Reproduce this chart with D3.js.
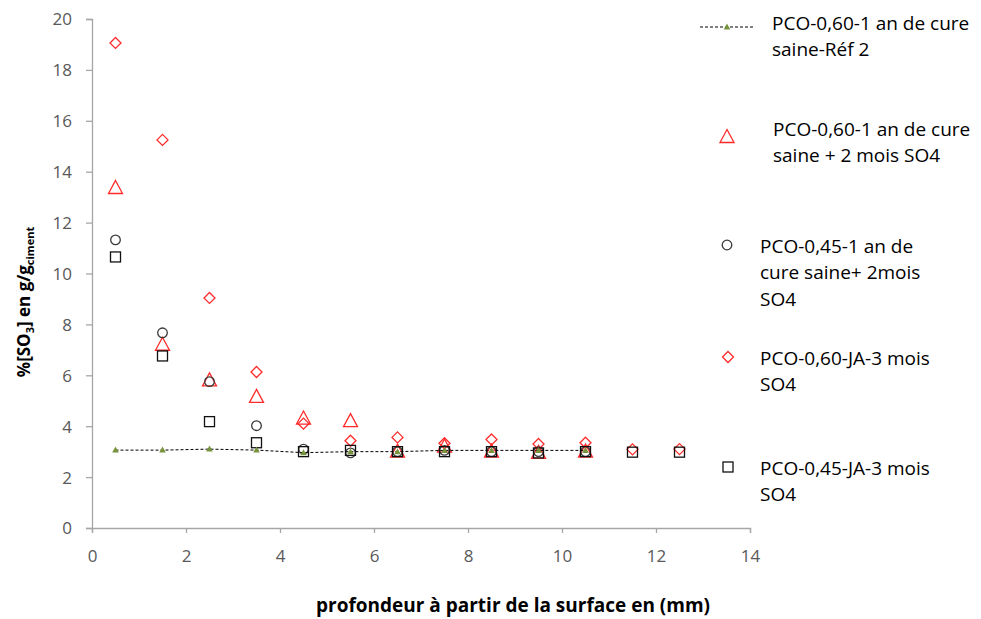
<!DOCTYPE html>
<html><head><meta charset="utf-8">
<script src="https://cdn.jsdelivr.net/npm/d3@7"></script>
<style>
body{margin:0;background:#fff;}
svg{font-family:"Open Sans",sans-serif;}
</style></head>
<body>
<svg id="c" width="981" height="619"></svg>
<script>
const depths = [0.5,1.5,2.5,3.5,4.5,5.5,6.5,7.5,8.5,9.5,10.5,11.5,12.5];
const refVals = [3.06,3.06,3.1,3.06,2.96,3.0,3.0,3.05,3.05,3.05,3.05];
const tri60Vals = [13.36,7.2,5.8,5.15,4.3,4.2,3.0,3.2,3.0,2.95,3.0];
const circ45Vals = [11.32,7.67,5.75,4.02,3.1,2.95,3.0,3.05,3.0,3.0,3.0];
const diam60Vals = [19.06,15.25,9.04,6.13,4.1,3.43,3.56,3.33,3.48,3.3,3.35,3.09,3.1];
const sq45Vals = [10.65,6.76,4.18,3.35,3.0,3.05,3.0,3.0,3.0,2.95,3.0,2.98,2.98];
const xTicks = [0,2,4,6,8,10,12,14];
const yTicks = [0,2,4,6,8,10,12,14,16,18,20];
const legendLabels = [
  ["PCO-0,60-1 an de cure","saine-Réf 2"],
  ["PCO-0,60-1 an de cure","saine + 2 mois SO4"],
  ["PCO-0,45-1 an de","cure saine+ 2mois","SO4"],
  ["PCO-0,60-JA-3 mois","SO4"],
  ["PCO-0,45-JA-3 mois","SO4"]
];

const svg = d3.select("#c");
const x = d3.scaleLinear().domain([0,14]).range([92,750]);
const y = d3.scaleLinear().domain([0,20]).range([528,19]);
const axisCol = "#a6a6a6", textCol = "#595959";
const FONT = "'Open Sans',sans-serif";

// axes
const xa = svg.append("g").attr("transform","translate(0,528)")
  .call(d3.axisBottom(x).tickValues(xTicks).tickSize(5).tickFormat(d3.format("d")));
const ya = svg.append("g").attr("transform","translate(92,0)")
  .call(d3.axisLeft(y).tickValues(yTicks).tickSize(6).tickFormat(d3.format("d")));
[xa,ya].forEach(g=>{
  g.select(".domain").attr("stroke",axisCol).attr("stroke-width",1.3);
  g.selectAll(".tick line").attr("stroke",axisCol).attr("stroke-width",1.3);
  g.selectAll(".tick text").attr("fill",textCol).attr("font-size",17)
   .attr("font-family",FONT);
});
xa.selectAll(".tick text").attr("y",28).attr("dy","0.35em");
ya.selectAll(".tick text").attr("x",-20).attr("dy","0.35em");

// axis titles
svg.append("text").attr("x",513).attr("y",612).attr("text-anchor","middle")
  .attr("font-weight","bold").attr("font-size",19).attr("fill","#000").attr("font-family",FONT)
  .text("profondeur à partir de la surface en (mm)");
const yt = svg.append("text").attr("transform","translate(30,302) rotate(-90)")
  .attr("text-anchor","middle").attr("font-weight","bold").attr("font-size",17)
  .attr("fill","#000").attr("font-family",FONT);
yt.append("tspan").text("%[SO");
yt.append("tspan").attr("font-size",11).attr("dy",4).text("3");
yt.append("tspan").attr("dy",-4).text("] en g/g");
yt.append("tspan").attr("font-size",11).attr("dy",4).text("ciment");

// marker helpers
const red = "#ff2a2a";
function drawTri(g,cx,cy){
  g.append("path").attr("d","M0,-7.5L7,5.5L-7,5.5Z").attr("transform",`translate(${cx},${cy})`)
   .attr("fill","none").attr("stroke",red).attr("stroke-width",1.3);
}
function drawCirc(g,cx,cy){
  g.append("circle").attr("cx",cx).attr("cy",cy).attr("r",4.8)
   .attr("fill","none").attr("stroke","#3a3a3a").attr("stroke-width",1.3);
}
function drawDiam(g,cx,cy){
  g.append("path").attr("d","M0,-5.5L5.5,0L0,5.5L-5.5,0Z").attr("transform",`translate(${cx},${cy})`)
   .attr("fill","none").attr("stroke",red).attr("stroke-width",1.3);
}
function drawSq(g,cx,cy){
  g.append("rect").attr("x",cx-5).attr("y",cy-5).attr("width",10).attr("height",10)
   .attr("fill","none").attr("stroke","#111").attr("stroke-width",1.3);
}
function drawRefMark(g,cx,cy){
  g.append("path").attr("d","M0,-3.5L3.3,2.5L-3.3,2.5Z").attr("transform",`translate(${cx},${cy})`)
   .attr("fill","#77933c").attr("stroke","none");
}

const plot = svg.append("g");
tri60Vals.forEach((v,i)=>drawTri(plot,x(depths[i]),y(v)));
circ45Vals.forEach((v,i)=>drawCirc(plot,x(depths[i]),y(v)));
diam60Vals.forEach((v,i)=>drawDiam(plot,x(depths[i]),y(v)));
sq45Vals.forEach((v,i)=>drawSq(plot,x(depths[i]),y(v)));
const refData = refVals.map((v,i)=>[depths[i],v]);
plot.append("path").datum(refData)
  .attr("d",d3.line().x(d=>x(d[0])).y(d=>y(d[1])))
  .attr("fill","none").attr("stroke","#000").attr("stroke-width",1).attr("stroke-dasharray","3,2");
refData.forEach(d=>drawRefMark(plot,x(d[0]),y(d[1])));

// legend
const lg = svg.append("g");
lg.append("line").attr("x1",700).attr("x2",753).attr("y1",27).attr("y2",27)
  .attr("stroke","#000").attr("stroke-width",1).attr("stroke-dasharray","3,2");
drawRefMark(lg,727,27);
drawTri(lg,727,137);
drawCirc(lg,727,245);
drawDiam(lg,728,357);
drawSq(lg,728,467);
const legPos = [[772,23],[773,129],[760,246],[760,358],[760,468]];
const lineH = 26.5;
legendLabels.forEach((lines,i)=>{
  const t = lg.append("text").attr("font-size",19).attr("fill","#000").attr("font-family",FONT);
  lines.forEach((s,j)=>{
    t.append("tspan").attr("x",legPos[i][0]).attr("y",legPos[i][1]+j*lineH).attr("dy","0.35em").text(s);
  });
});
</script>
</body></html>
